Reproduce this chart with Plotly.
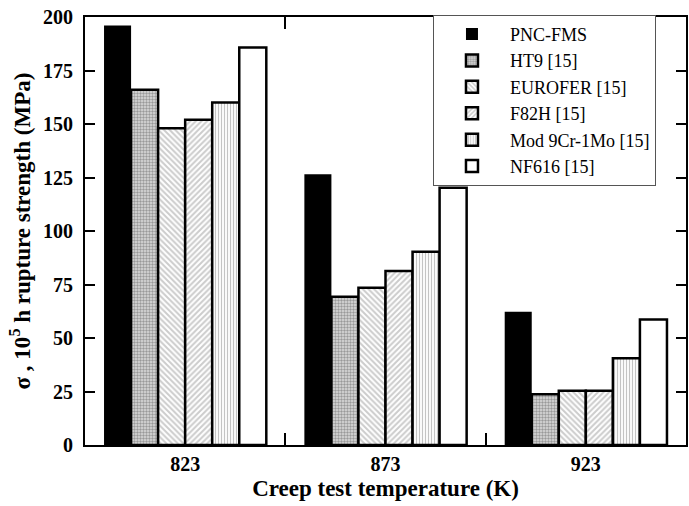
import plotly.graph_objects as go

categories = ["823", "873", "923"]
series_names = ["PNC-FMS", "HT9 [15]", "EUROFER [15]", "F82H [15]", "Mod 9Cr-1Mo [15]", "NF616 [15]"]
pnc_fms = [196.0, 126.5, 62.3]
ht9 = [166.0, 69.3, 23.7]
eurofer = [148.0, 73.5, 25.4]
f82h = [152.0, 81.3, 25.4]
mod9cr = [160.0, 90.3, 40.5]
nf616 = [185.7, 120.2, 58.7]
y_ticks = [0, 25, 50, 75, 100, 125, 150, 175, 200]

values = [pnc_fms, ht9, eurofer, f82h, mod9cr, nf616]
styles = [
    dict(color="black", line=dict(color="black", width=0)),
    dict(color="white", line=dict(color="black", width=2.5),
         pattern=dict(shape=".", fgcolor="#555555", bgcolor="#dddddd", size=3, solidity=0.5)),
    dict(color="white", line=dict(color="black", width=2.5),
         pattern=dict(shape="\\", fgcolor="#999999", bgcolor="white", size=4, solidity=0.5)),
    dict(color="white", line=dict(color="black", width=2.5),
         pattern=dict(shape="/", fgcolor="#999999", bgcolor="white", size=4, solidity=0.5)),
    dict(color="white", line=dict(color="black", width=2.5),
         pattern=dict(shape="|", fgcolor="#888888", bgcolor="white", size=3, solidity=0.4)),
    dict(color="white", line=dict(color="black", width=2.5)),
]

fig = go.Figure()
for name, vals, st in zip(series_names, values, styles):
    fig.add_trace(go.Bar(x=categories, y=vals, name=name, marker=st))

serif = "'Times New Roman', 'Liberation Serif', 'DejaVu Serif', serif"
fig.update_layout(
    width=689, height=506,
    margin=dict(l=85, r=1, t=17, b=61),
    paper_bgcolor="white", plot_bgcolor="white",
    barmode="group", bargap=0.19, bargroupgap=0,
    font=dict(family=serif, color="black"),
    showlegend=True,
    legend=dict(
        x=0.579, y=1.005, xanchor="left", yanchor="top",
        bgcolor="white", bordercolor="#555555", borderwidth=1,
        font=dict(family=serif, size=18, color="black"),
        itemwidth=66, entrywidth=202,
    ),
)
fig.update_xaxes(
    type="category", range=[-0.5, 2.5],
    tickson="boundaries", ticks="inside", ticklen=12, tickwidth=2, tickcolor="black",
    showline=True, linewidth=2, linecolor="black", mirror="ticks",
    showgrid=False,
    tickfont=dict(family=serif, size=20, color="black", weight="bold"),
    title=dict(text="<b>Creep test temperature (K)</b>",
               font=dict(family=serif, size=23, color="black"), standoff=6),
)
fig.update_yaxes(
    range=[0, 200], tickvals=y_ticks, ticktext=[str(v) for v in y_ticks],
    ticks="inside", ticklen=10, tickwidth=2, tickcolor="black",
    showline=True, linewidth=2, linecolor="black", mirror="ticks",
    showgrid=False, zeroline=False,
    tickfont=dict(family=serif, size=20, color="black", weight="bold"),
    ticklabelstandoff=6,
    title=dict(text="<b>σ , 10<sup>5</sup> h rupture strength (MPa)</b>",
               font=dict(family=serif, size=23, color="black"), standoff=6),
)

fig.write_html("out.html")
